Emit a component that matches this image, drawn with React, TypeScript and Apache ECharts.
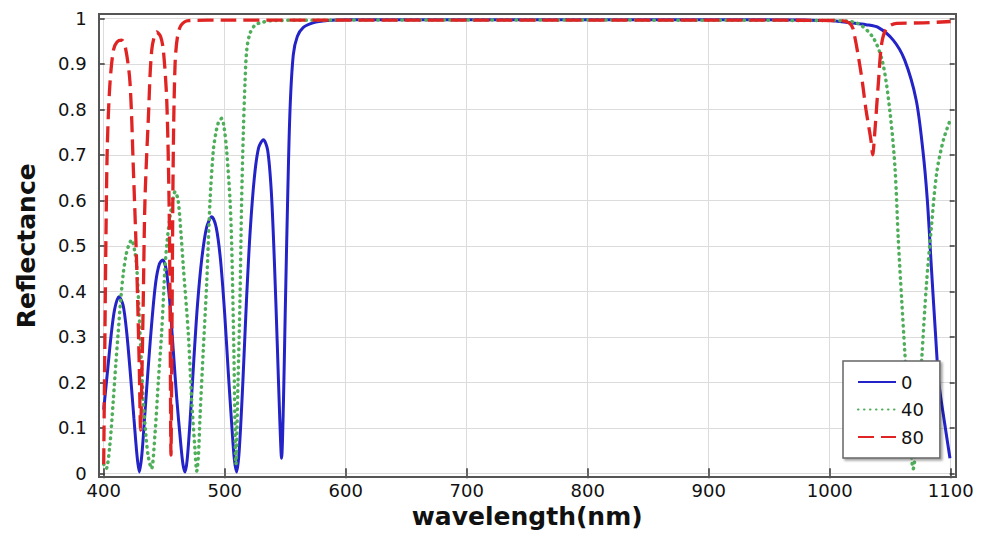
import React, { useEffect, useRef } from "react";
import * as echarts from "echarts";

// x ticks / y ticks
const xTicks = [400, 500, 600, 700, 800, 900, 1000, 1100];
const yTicks = [0, 0.1, 0.2, 0.3, 0.4, 0.5, 0.6, 0.7, 0.8, 0.9, 1];

const seriesNames = ["0", "40", "80"];

// angle 0
const blueWl = [400, 403, 406, 409, 412.6, 416, 419, 422, 425, 427.5, 429.4, 431.5, 434, 437, 440, 443, 446, 448.7, 451.5, 454.5, 457.5, 460.5, 463.5, 465.5, 467.2, 469, 471.5, 474.5, 477.5, 481, 485, 489.3, 493, 496.5, 500, 503, 506, 508, 509.9, 512, 515, 518, 521, 524.5, 528, 532, 535.5, 538.5, 541, 543.5, 545.5, 547, 548.5, 550, 552, 554, 556.7, 560, 565, 573, 585, 600, 700, 800, 900, 980, 1000, 1017, 1030, 1040, 1052.5, 1062, 1071.5, 1077, 1080.7, 1084, 1087.4, 1090.3, 1095, 1099.4];
const blueR = [0.14, 0.22, 0.3, 0.36, 0.388, 0.37, 0.31, 0.22, 0.12, 0.04, 0.003, 0.04, 0.13, 0.24, 0.34, 0.42, 0.46, 0.469, 0.45, 0.38, 0.27, 0.16, 0.07, 0.02, 0.003, 0.03, 0.12, 0.25, 0.37, 0.47, 0.54, 0.564, 0.54, 0.47, 0.35, 0.22, 0.1, 0.03, 0.003, 0.05, 0.2, 0.38, 0.53, 0.65, 0.715, 0.733, 0.71, 0.62, 0.47, 0.28, 0.12, 0.033, 0.15, 0.35, 0.6, 0.8, 0.92, 0.96, 0.98, 0.99, 0.995, 0.997, 0.997, 0.997, 0.997, 0.996, 0.995, 0.99, 0.986, 0.98, 0.952, 0.908, 0.82, 0.71, 0.6, 0.454, 0.308, 0.197, 0.11, 0.033];

// angle 40
const greenWl = [400, 402, 405, 407.9, 410, 412, 414, 416.2, 418.5, 420.3, 423, 425.5, 427.3, 430, 432.7, 435, 436.9, 439.5, 442.4, 445.1, 447.9, 450.7, 452.8, 454.8, 457, 459, 461.5, 463.8, 465.8, 469.9, 472.7, 475.5, 476.9, 478.3, 479.6, 482.3, 485.1, 487.9, 490.6, 492.5, 494.7, 497.5, 499.5, 501.6, 504.4, 505.8, 507.5, 509.3, 511, 512.6, 514, 515.4, 516.8, 518.2, 520.9, 525, 529.2, 540, 600, 800, 1000, 1022, 1036, 1044, 1050, 1054, 1056.7, 1059.5, 1062, 1065, 1069, 1073, 1076, 1080, 1084, 1088.4, 1094, 1099.4];
const greenR = [0.02, 0.01, 0.06, 0.16, 0.24, 0.31, 0.38, 0.44, 0.48, 0.498, 0.513, 0.49, 0.454, 0.31, 0.16, 0.08, 0.036, 0.01, 0.087, 0.2, 0.31, 0.454, 0.52, 0.564, 0.6, 0.619, 0.6, 0.53, 0.454, 0.308, 0.161, 0.05, 0.005, 0.04, 0.124, 0.271, 0.417, 0.6, 0.71, 0.745, 0.77, 0.78, 0.76, 0.71, 0.6, 0.5, 0.28, 0.02, 0.2, 0.38, 0.6, 0.75, 0.86, 0.93, 0.967, 0.985, 0.99, 0.995, 0.996, 0.996, 0.995, 0.99, 0.957, 0.9, 0.79, 0.67, 0.513, 0.381, 0.27, 0.14, 0.01, 0.12, 0.249, 0.417, 0.54, 0.66, 0.733, 0.775];

// angle 80
const redWl = [400, 401, 402, 403, 405, 408, 411, 414.9, 418, 421.7, 424.5, 427.3, 429.4, 430.5, 431.6, 432.7, 434.1, 436.9, 439.7, 443.8, 447, 449.3, 452.1, 454, 454.8, 455.6, 456.5, 457.5, 459, 461, 464, 470, 500, 700, 900, 1010, 1016, 1019.2, 1026, 1030, 1034.2, 1035.5, 1037.2, 1040.2, 1043, 1047.1, 1055.4, 1077.4, 1100];
const redR = [0.02, 0.3, 0.55, 0.72, 0.85, 0.93, 0.948, 0.952, 0.935, 0.86, 0.67, 0.454, 0.234, 0.095, 0.22, 0.38, 0.6, 0.78, 0.93, 0.97, 0.96, 0.93, 0.82, 0.6, 0.38, 0.04, 0.35, 0.7, 0.9, 0.96, 0.985, 0.995, 0.996, 0.996, 0.996, 0.995, 0.99, 0.978, 0.878, 0.799, 0.73, 0.7, 0.747, 0.857, 0.945, 0.978, 0.989, 0.99, 0.993];

const zip = (xs: number[], ys: number[]) => xs.map((x, i) => [x, ys[i]]);

const FONT = "DejaVu Sans";
const BLUE = "#2323c8";
const GREEN = "#4fae5a";
const RED = "#e02424";

export default function App() {
  const ref = useRef<HTMLDivElement>(null);
  useEffect(() => {
    if (!ref.current) return;
    const chart = echarts.init(ref.current, undefined, { renderer: "svg" });
    const gridLeft = 103.7;
    const gridRight = 986 - 950.7;
    const gridTop = 18.3;
    const gridBottom = 537 - 473.3;
    const tickStyle = { show: true, inside: true, length: 5, lineStyle: { color: "#333", width: 1.5 } };
    const xBase = {
      type: "value" as const,
      min: xTicks[0],
      max: xTicks[xTicks.length - 1],
      interval: 100,
      offset: 4,
      axisLine: { show: false },
      axisTick: tickStyle,
    };
    const yBase = {
      type: "value" as const,
      min: yTicks[0],
      max: yTicks[yTicks.length - 1],
      interval: 0.1,
      offset: 4,
      axisLine: { show: false },
      axisTick: tickStyle,
    };
    const noSymbol = { color: "rgba(0,0,0,0)", opacity: 0 };
    chart.setOption({
      animation: false,
      backgroundColor: "#fff",
      grid: { left: gridLeft, right: gridRight, top: gridTop, bottom: gridBottom },
      xAxis: [
        {
          ...xBase,
          position: "bottom",
          name: "wavelength(nm)",
          nameLocation: "middle",
          nameGap: 23,
          nameTextStyle: { fontFamily: FONT, fontSize: 25, fontWeight: "bold", color: "#111" },
          axisLabel: {
            fontFamily: FONT,
            fontSize: 18,
            color: "#111",
            margin: 4,
            formatter: (v: number) => String(v),
          },
          splitLine: { show: true, lineStyle: { color: "#dcdcdc", width: 1 } },
        },
        {
          ...xBase,
          position: "top",
          axisLabel: { show: false },
          splitLine: { show: false },
        },
      ],
      yAxis: [
        {
          ...yBase,
          position: "left",
          name: "Reflectance",
          nameLocation: "middle",
          nameGap: 61,
          nameTextStyle: { fontFamily: FONT, fontSize: 25, fontWeight: "bold", color: "#111" },
          axisLabel: { fontFamily: FONT, fontSize: 18, color: "#111", margin: 13 },
          splitLine: { show: true, lineStyle: { color: "#dcdcdc", width: 1 } },
        },
        {
          ...yBase,
          position: "right",
          axisLabel: { show: false },
          splitLine: { show: false },
        },
      ],
      legend: {
        data: seriesNames,
        orient: "vertical",
        left: 843,
        top: 361,
        padding: [12, 16, 12, 14],
        itemGap: 9.5,
        itemWidth: 38,
        itemHeight: 14,
        backgroundColor: "#fff",
        borderColor: "#666",
        borderWidth: 1.5,
        shadowColor: "rgba(0,0,0,0.35)",
        shadowOffsetX: 2,
        shadowOffsetY: 2,
        shadowBlur: 2,
        itemStyle: { opacity: 0 },
        textStyle: { fontFamily: FONT, fontSize: 18, color: "#111" },
      },
      graphic: [
        {
          type: "rect",
          z: 100,
          shape: { x: 99, y: 14, width: 857, height: 463 },
          style: { fill: "none", stroke: "#555", lineWidth: 2 },
          silent: true,
        },
      ],
      series: [
        {
          name: seriesNames[0],
          type: "line",
          data: zip(blueWl, blueR),
          showSymbol: false,
          symbol: "none",
          smooth: 0.3,
          color: BLUE,
          lineStyle: { color: BLUE, width: 3 },
          itemStyle: noSymbol,
        },
        {
          name: seriesNames[1],
          type: "line",
          data: zip(greenWl, greenR),
          showSymbol: false,
          symbol: "none",
          smooth: 0.3,
          color: GREEN,
          lineStyle: { color: GREEN, width: 3.5, type: [0.5, 5.5], cap: "round" },
          itemStyle: noSymbol,
        },
        {
          name: seriesNames[2],
          type: "line",
          data: zip(redWl, redR),
          showSymbol: false,
          symbol: "none",
          smooth: 0.3,
          color: RED,
          lineStyle: { color: RED, width: 3.3, type: [16, 7] },
          itemStyle: noSymbol,
        },
      ],
    });
    return () => chart.dispose();
  }, []);
  return (
    <div
      ref={ref}
      style={{ position: "absolute", left: 0, top: 0, width: 986, height: 537 }}
    />
  );
}
